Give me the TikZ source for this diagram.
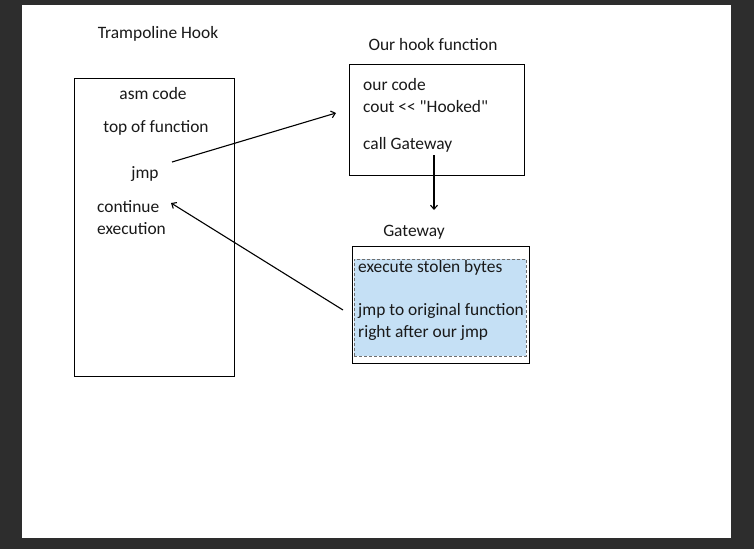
\documentclass[tikz,border=0pt]{standalone}
\usepackage{fontspec}
\setmainfont{Carlito}[Ligatures=TeXOff]
\usetikzlibrary{positioning, arrows.meta}
\definecolor{hkdark}{RGB}{45,45,45}
\definecolor{hkblue}{RGB}{197,224,245}
\definecolor{hkdash}{RGB}{110,110,110}
\tikzset{
    lbl/.style={inner sep=0pt, yshift=-1.5pt, text=black!90, font=\fontsize{17.4}{22}\selectfont},
    codeline/.style={lbl, anchor=west},
    codebox/.style={draw, line width=1.4pt, inner sep=0pt, anchor=north west},
    flow/.style={-{Straight Barb[length=4pt, width=7pt]}, line width=1.1pt}
}
\begin{document}
\begin{tikzpicture}[x=1pt, y=-1pt]
% screen
\fill[hkdark] (0,0) rectangle (754,549);
\fill[white] (22,5) rectangle (731,538);
\useasboundingbox (0,0) rectangle (754,549);

% trampoline side
\node[lbl] (tramp) at (158,32) {Trampoline Hook};
\node[codebox, minimum width=160pt, minimum height=298pt] (trampbox) at (74,78) {};
\node[lbl] (asm) at (153,92) {asm code};
\node[lbl] (top) at (156,126) {top of function};
\node[lbl] (jmp) at (145,173) {jmp};
\node[codeline] (cont) at (97,205) {continue};
\node[codeline] (exec) at (97,227) {execution};

% hook function
\node[lbl] (hooktitle) at (433,43) {Our hook function};
\node[codebox, minimum width=175pt, minimum height=111pt] (hook) at (349,64) {};
\node[codeline] (our) at (363,83) {our code};
\node[codeline] (cout) at (363,105) {cout << "Hooked"};
\node[codeline] (call) at (363,143) {call Gateway};

% gateway
\node[lbl] (gwtitle) at (414,231) {Gateway};
\node[codebox, line width=1.1pt, minimum width=177pt, minimum height=117pt] (gw) at (352,246) {};
\node[fill=hkblue, draw=hkdash, densely dashed, line width=0.8pt, inner sep=0pt,
      anchor=north west, minimum width=172pt, minimum height=97pt] (sel) at (354,259) {};
\node[codeline] (stolen) at (358,266) {execute stolen bytes};
\node[codeline] (orig) at (358,309) {jmp to original function};
\node[codeline] (after) at (358,331) {right after our jmp};

% connectors
\coordinate (jmpout) at (172,162);
\coordinate (hookin) at (336,113);
\coordinate (callout) at (434,155);
\coordinate (gwin) at (434,210);
\coordinate (gwout) at (343,310);
\coordinate (contin) at (171,203);
\draw[flow] (jmpout) -- (hookin);
\draw[flow] (callout) -- (gwin);
\draw[flow] (gwout) -- (contin);
\end{tikzpicture}
\end{document}
